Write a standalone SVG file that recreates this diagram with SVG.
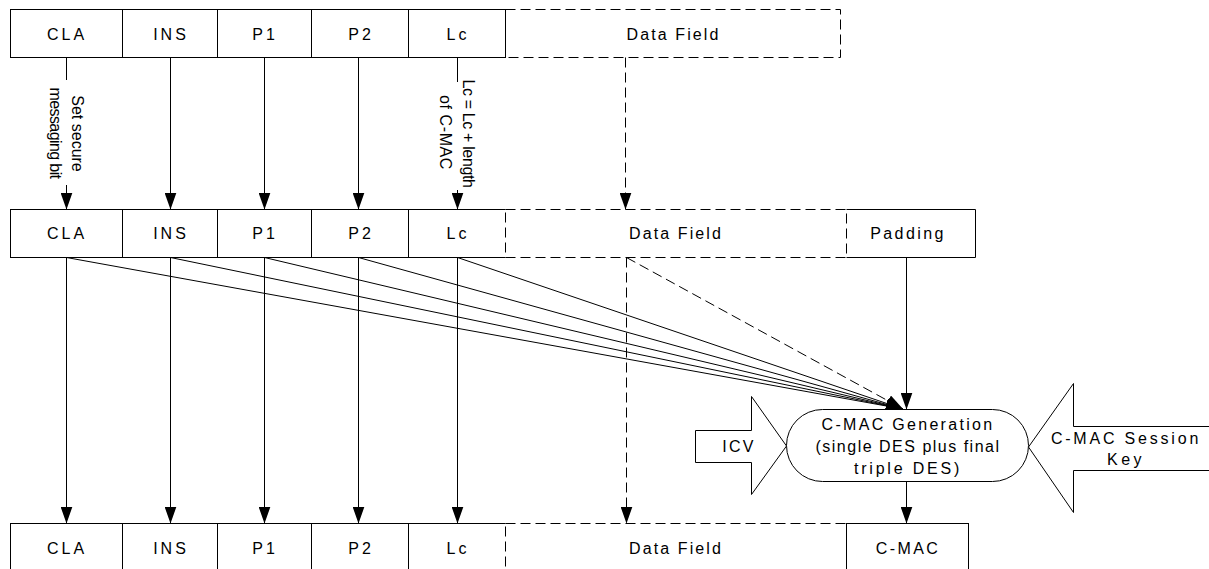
<svg xmlns="http://www.w3.org/2000/svg" width="1209" height="569" viewBox="0 0 1209 569">
<defs>
<style>
.box{fill:#fff;stroke:#000;stroke-width:1}
.open{fill:none;stroke:#000;stroke-width:1}
.dash{fill:none;stroke:#000;stroke-width:1;stroke-dasharray:10 5}
.ln{fill:none;stroke:#000;stroke-width:1}
.lbl{font-family:"Liberation Sans",Arial,sans-serif;font-size:16px;fill:#000;text-anchor:middle}
</style>
<marker id="arr" markerUnits="userSpaceOnUse" markerWidth="17" markerHeight="12" refX="17" refY="6" orient="auto" viewBox="0 0 17 12">
<path d="M0,0 L17,6 L0,12 Z" fill="#000" stroke="none"/>
</marker>
</defs>
<rect width="1209" height="569" fill="#fff"/>

<!-- Top row -->
<g id="top-cla"><rect class="box" x="10.5" y="9.5" width="112" height="48"/><text class="lbl" x="67" y="39.5" letter-spacing="3">CLA</text></g>
<g id="top-ins"><rect class="box" x="122.5" y="9.5" width="95" height="48"/><text class="lbl" x="171" y="39.5" letter-spacing="3">INS</text></g>
<g id="top-p1"><rect class="box" x="217.5" y="9.5" width="94" height="48"/><text class="lbl" x="265" y="39.5" letter-spacing="3">P1</text></g>
<g id="top-p2"><rect class="box" x="311.5" y="9.5" width="97" height="48"/><text class="lbl" x="361" y="39.5" letter-spacing="3">P2</text></g>
<g id="top-lc"><rect class="box" x="408.5" y="9.5" width="97" height="48"/><text class="lbl" x="458" y="39.5" letter-spacing="3">Lc</text></g>
<g id="top-data"><path class="dash" d="M505.5,9.5 H840.5 V57.5 H505.5"/><text class="lbl" x="673.5" y="39.5" letter-spacing="2.1">Data Field</text></g>

<!-- Middle row -->
<g id="mid-cla"><rect class="box" x="10.5" y="209.5" width="112" height="48"/><text class="lbl" x="67" y="238.5" letter-spacing="3">CLA</text></g>
<g id="mid-ins"><rect class="box" x="122.5" y="209.5" width="95" height="48"/><text class="lbl" x="171" y="238.5" letter-spacing="3">INS</text></g>
<g id="mid-p1"><rect class="box" x="217.5" y="209.5" width="94" height="48"/><text class="lbl" x="265" y="238.5" letter-spacing="3">P1</text></g>
<g id="mid-p2"><rect class="box" x="311.5" y="209.5" width="97" height="48"/><text class="lbl" x="361" y="238.5" letter-spacing="3">P2</text></g>
<g id="mid-lc"><path class="open" d="M505.5,209.5 H408.5 V257.5 H505.5"/><text class="lbl" x="458" y="238.5" letter-spacing="3">Lc</text></g>
<g id="mid-data"><rect class="dash" x="505.5" y="209.5" width="341" height="48"/><text class="lbl" x="676" y="238.5" letter-spacing="2.1">Data Field</text></g>
<g id="mid-padding"><path class="open" d="M846.5,209.5 H975.5 V257.5 H846.5"/><text class="lbl" x="908" y="238.5" letter-spacing="2.4">Padding</text></g>

<!-- Bottom row -->
<g id="bot-cla"><rect class="box" x="10.5" y="523.5" width="112" height="48"/><text class="lbl" x="67" y="554" letter-spacing="3">CLA</text></g>
<g id="bot-ins"><rect class="box" x="122.5" y="523.5" width="95" height="48"/><text class="lbl" x="171" y="554" letter-spacing="3">INS</text></g>
<g id="bot-p1"><rect class="box" x="217.5" y="523.5" width="94" height="48"/><text class="lbl" x="265" y="554" letter-spacing="3">P1</text></g>
<g id="bot-p2"><rect class="box" x="311.5" y="523.5" width="97" height="48"/><text class="lbl" x="361" y="554" letter-spacing="3">P2</text></g>
<g id="bot-lc"><path class="open" d="M505.5,523.5 H408.5 V571.5 H505.5"/><text class="lbl" x="458" y="554" letter-spacing="3">Lc</text></g>
<g id="bot-data"><rect class="dash" x="505.5" y="523.5" width="341" height="48"/><text class="lbl" x="676" y="554" letter-spacing="2.1">Data Field</text></g>
<g id="bot-cmac"><rect class="box" x="846.5" y="523.5" width="122" height="48"/><text class="lbl" x="908" y="554" letter-spacing="2.4">C-MAC</text></g>

<!-- Connectors -->
<g id="connectors">
<line class="ln" x1="66.5" y1="57.5" x2="66.5" y2="80"/>
<line class="ln" x1="66.5" y1="185" x2="66.5" y2="209.5" marker-end="url(#arr)"/>
<line class="ln" x1="170.5" y1="57.5" x2="170.5" y2="209.5" marker-end="url(#arr)"/>
<line class="ln" x1="264.5" y1="57.5" x2="264.5" y2="209.5" marker-end="url(#arr)"/>
<line class="ln" x1="358.5" y1="57.5" x2="358.5" y2="209.5" marker-end="url(#arr)"/>
<line class="ln" x1="457.5" y1="57.5" x2="457.5" y2="82"/>
<line class="ln" x1="457.5" y1="190" x2="457.5" y2="209.5" marker-end="url(#arr)"/>
<line class="dash" x1="625.5" y1="57.5" x2="625.5" y2="209.5" marker-end="url(#arr)"/>

<line class="ln" x1="66.5" y1="257.5" x2="66.5" y2="523.5" marker-end="url(#arr)"/>
<line class="ln" x1="170.5" y1="257.5" x2="170.5" y2="523.5" marker-end="url(#arr)"/>
<line class="ln" x1="264.5" y1="257.5" x2="264.5" y2="523.5" marker-end="url(#arr)"/>
<line class="ln" x1="358.5" y1="257.5" x2="358.5" y2="523.5" marker-end="url(#arr)"/>
<line class="ln" x1="457.5" y1="257.5" x2="457.5" y2="523.5" marker-end="url(#arr)"/>
<line class="dash" x1="626.5" y1="257.5" x2="626.5" y2="523.5" marker-end="url(#arr)"/>

<line class="ln" x1="66.5" y1="257.5" x2="903" y2="409" marker-end="url(#arr)"/>
<line class="ln" x1="170.5" y1="257.5" x2="903" y2="409" marker-end="url(#arr)"/>
<line class="ln" x1="264.5" y1="257.5" x2="903" y2="409" marker-end="url(#arr)"/>
<line class="ln" x1="358.5" y1="257.5" x2="903" y2="409" marker-end="url(#arr)"/>
<line class="ln" x1="457.5" y1="257.5" x2="903" y2="409" marker-end="url(#arr)"/>
<line class="dash" x1="626.5" y1="257.5" x2="903" y2="409" marker-end="url(#arr)"/>
<line class="ln" x1="906.5" y1="257.5" x2="906.5" y2="409.5" marker-end="url(#arr)"/>
<line class="ln" x1="906.5" y1="482" x2="906.5" y2="523.5" marker-end="url(#arr)"/>

<text class="lbl" transform="translate(72,133.5) rotate(90)">Set secure</text>
<text class="lbl" transform="translate(49.5,133) rotate(90)" letter-spacing="-0.6">messaging bit</text>
<text class="lbl" transform="translate(463,133.5) rotate(90)" letter-spacing="-0.35">Lc = Lc + length</text>
<text class="lbl" transform="translate(439.5,132.5) rotate(90)" letter-spacing="0.6">of C-MAC</text>
</g>

<!-- C-MAC generation -->
<g id="cmac-gen">
<rect class="box" x="786.5" y="409.5" width="242" height="72" rx="36" ry="36"/>
<text class="lbl" x="908" y="429.5" letter-spacing="2.3">C-MAC Generation</text>
<text class="lbl" x="908" y="451.5" letter-spacing="1.5">(single DES plus final</text>
<text class="lbl" x="908" y="473.5" letter-spacing="2.8">triple DES)</text>
</g>

<g id="icv">
<polygon class="box" points="695.5,430.5 751.5,430.5 751.5,396.5 786.5,446 751.5,494.5 751.5,462.5 695.5,462.5"/>
<text class="lbl" x="739" y="451.5" letter-spacing="2.3">ICV</text>
</g>

<g id="session-key">
<polygon class="box" points="1210,426.5 1073.5,426.5 1073.5,383.5 1028.5,447 1073.5,512.5 1073.5,470.5 1210,470.5"/>
<text class="lbl" x="1126" y="443.5" letter-spacing="2.8">C-MAC Session</text>
<text class="lbl" x="1126" y="465" letter-spacing="3.4">Key</text>
</g>
</svg>
